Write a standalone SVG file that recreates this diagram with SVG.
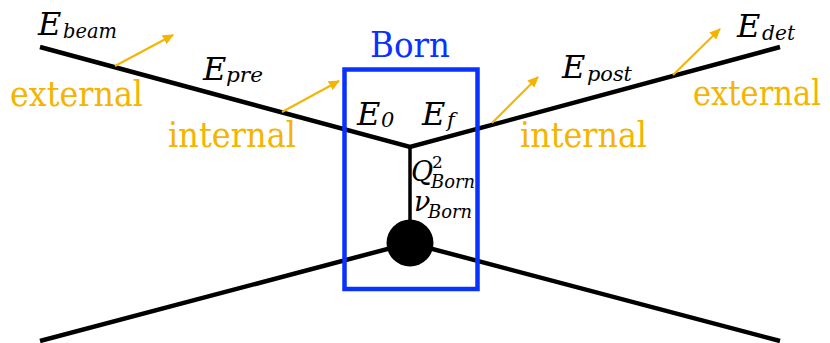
<svg xmlns="http://www.w3.org/2000/svg" width="830" height="343" viewBox="0 0 830 343">
<style>
.ln{stroke:#000;stroke-width:4.5;fill:none;stroke-linecap:butt}
.ar{stroke:#F4B400;stroke-width:2;fill:none}
.m{font-style:italic;font-size:32px;fill:#000}
.s{font-size:21px}
.o{font-size:36px;fill:#F4B400}
.b{font-size:36px;fill:#0A32FF}
</style>
<defs>
<marker id="ah" markerUnits="userSpaceOnUse" markerWidth="12" markerHeight="10" refX="10" refY="5" orient="auto">
<path d="M0,0 L11,5 L0,10 Z" fill="#F4B400"/>
</marker>
</defs>
<rect width="830" height="343" fill="#fff"/>
<g id="connectors">
<path class="ln" d="M40,47 L410,147 L780,47"/>
<path class="ln" d="M410,147 L410,243" style="stroke-width:3.5"/>
<path class="ln" d="M40,341 L410,243 L780,341"/>
<line class="ar" x1="115" y1="66" x2="173" y2="35" marker-end="url(#ah)"/>
<line class="ar" x1="282" y1="112" x2="339" y2="81" marker-end="url(#ah)"/>
<line class="ar" x1="492" y1="123" x2="538" y2="77" marker-end="url(#ah)"/>
<line class="ar" x1="673" y1="75" x2="720" y2="29" marker-end="url(#ah)"/>
</g>
<g id="born">
<rect x="344.5" y="69.5" width="133" height="219.5" fill="none" stroke="#0A32FF" stroke-width="4.5"/>
<text class="b" font-family="DejaVu Serif, serif" x="410" y="57" text-anchor="middle" textLength="80" lengthAdjust="spacingAndGlyphs">Born</text>
</g>
<g id="blob">
<circle cx="410" cy="243" r="23.5" fill="#000"/>
</g>
<g id="labels" font-family="DejaVu Serif, serif">
<text class="m" x="38" y="35">E<tspan class="s" x="63" y="38" textLength="54" lengthAdjust="spacingAndGlyphs">beam</tspan></text>
<text class="m" x="203" y="80">E<tspan class="s" x="226" y="82" textLength="37" lengthAdjust="spacingAndGlyphs">pre</tspan></text>
<text class="m" x="357" y="125">E<tspan class="s" x="381" y="127">0</tspan></text>
<text class="m" x="422" y="125">E<tspan class="s" x="447" y="127">f</tspan></text>
<text class="m" x="411" y="181" style="font-size:27px">Q<tspan x="432" y="168" style="font-size:17px;font-style:normal">2</tspan><tspan x="431" y="188" style="font-size:19px" textLength="44" lengthAdjust="spacingAndGlyphs">Born</tspan></text>
<text class="m" x="414" y="211" style="font-size:27px">ν<tspan x="428" y="218" style="font-size:19px" textLength="44" lengthAdjust="spacingAndGlyphs">Born</tspan></text>
<text class="m" x="562" y="78">E<tspan class="s" x="587" y="81" textLength="45" lengthAdjust="spacingAndGlyphs">post</tspan></text>
<text class="m" x="737" y="37">E<tspan class="s" x="762" y="40" textLength="33" lengthAdjust="spacingAndGlyphs">det</tspan></text>
<text class="o" x="10" y="106" textLength="133" lengthAdjust="spacingAndGlyphs">external</text>
<text class="o" x="168" y="147" textLength="128" lengthAdjust="spacingAndGlyphs">internal</text>
<text class="o" x="520" y="147" textLength="127" lengthAdjust="spacingAndGlyphs">internal</text>
<text class="o" x="693" y="105" textLength="128" lengthAdjust="spacingAndGlyphs">external</text>
</g>
</svg>
